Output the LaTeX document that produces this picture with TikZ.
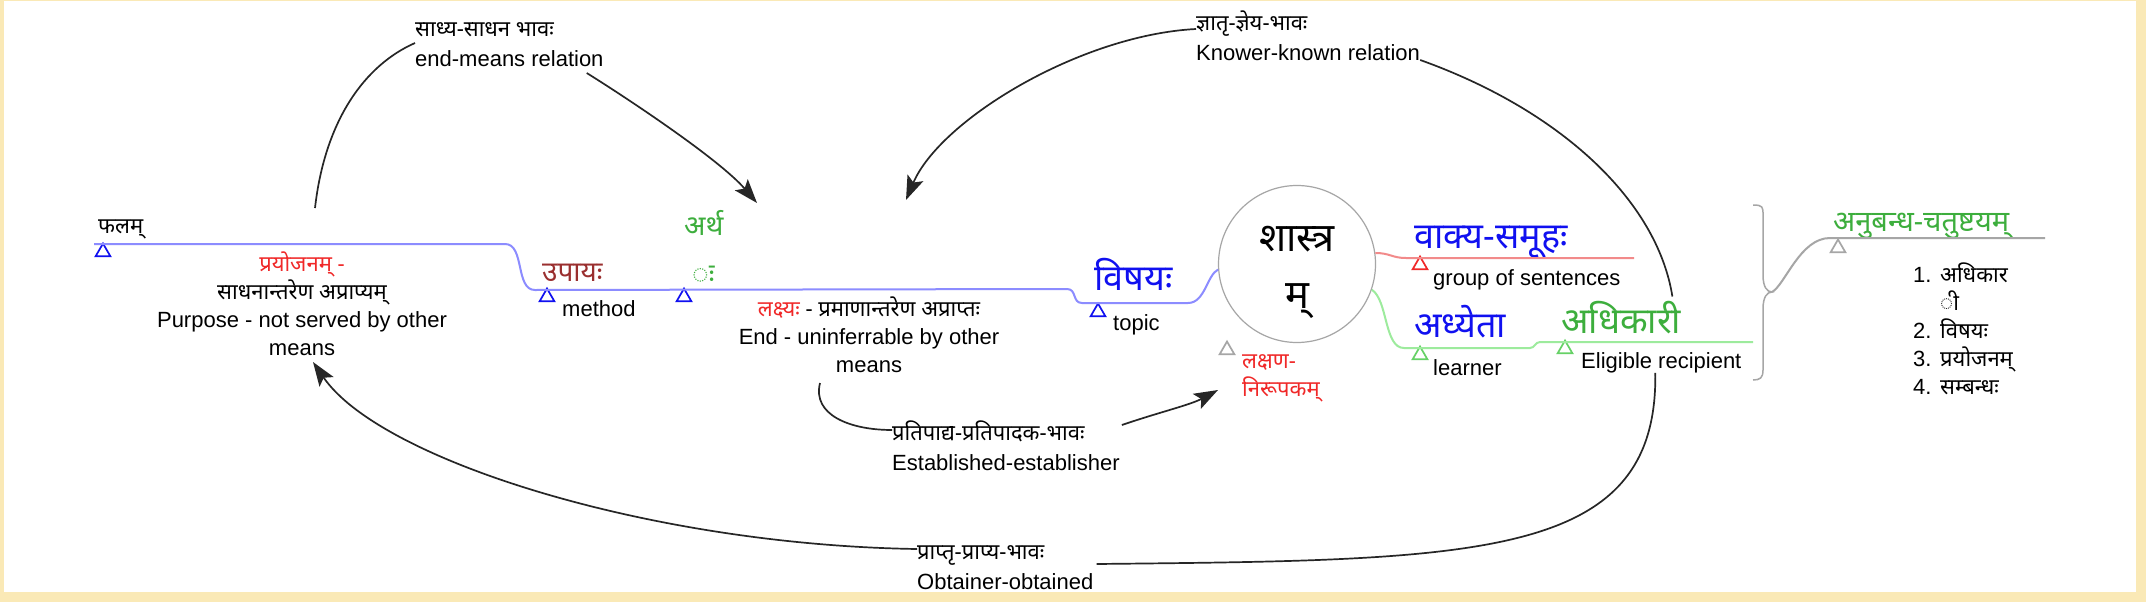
\documentclass[tikz,border=0pt]{standalone}
\usepackage{fontspec}
\setmainfont{Liberation Sans}
\newfontfamily\skt[Script=Devanagari]{Noto Sans}
\usetikzlibrary{arrows.meta,shapes.geometric}
\definecolor{bgframe}{HTML}{FAE9B6}
\definecolor{tblue}{HTML}{1010F0}
\definecolor{tgreen}{HTML}{3DAE3D}
\definecolor{tred}{HTML}{F02828}
\definecolor{tbrown}{HTML}{9A2F2F}
\definecolor{lblue}{HTML}{8C8CFF}
\definecolor{lred}{HTML}{F28A8A}
\definecolor{lgreen}{HTML}{9DEB9D}
\definecolor{lgrey}{HTML}{A6A6A6}

\begin{document}
\begin{tikzpicture}[x=1pt,y=-1pt,
  every node/.style={inner sep=0pt},
  notes/.style={font=\fontsize{22}{28}\selectfont,align=center,anchor=north},
  relnote/.style={font=\fontsize{22}{30}\selectfont,align=left,anchor=north west},
  latinnote/.style={font=\fontsize{22}{28}\selectfont,anchor=base west},
  devnote/.style={font=\skt\fontsize{22}{28}\selectfont,anchor=base west},
  topicmid/.style={font=\skt\fontsize{28}{48}\selectfont,anchor=base west},
  topicbig/.style={font=\skt\fontsize{36}{42}\selectfont,anchor=base west},
  marker/.style={regular polygon,regular polygon sides=3,draw,line width=1.7pt,minimum size=17pt},
  branchline/.style={line width=2pt},
  relline/.style={draw=black!85,line width=1.7pt},
  relarrow/.style={relline,-{Stealth[length=24pt,width=17pt,inset=5pt]}}]
\useasboundingbox (0,0) rectangle (2146,602);
\fill[bgframe] (0,0) rectangle (2146,602);
\fill[white] (4,1) rectangle (2136,592);

\node[devnote] (phalam) at (98,233) {फलम्};
\node[notes] (phalamnote) at (302,252) {{\skt\color{tred}प्रयोजनम् -}\\{\skt साधनान्तरेण अप्राप्यम्}\\Purpose - not served by other\\means};
\node[topicmid,tbrown] (upaya) at (542,281) {उपायः};
\node[latinnote] (method) at (562,316) {method};
\node[topicmid,tgreen,align=left,anchor=north west] (artha) at (684,210) {अर्थ\\\hspace*{8pt}ः};
\node[notes] (arthanote) at (869,297) {{\skt\color{tred}लक्ष्यः}{\skt{} - प्रमाणान्तरेण अप्राप्तः}\\End - uninferrable by other\\means};
\node[topicbig,tblue] (vishaya) at (1094,290) {विषयः};
\node[latinnote] (topic) at (1113,330) {topic};
\node[circle,draw=lgrey,line width=1.2pt,fill=white,minimum size=157pt] (shastra) at (1297,264) {};
\node[align=center,font=\skt\fontsize{40}{57}\selectfont] (shastratext) at (1297,272) {शास्त्र\\म्};
\node[topicbig,tblue] (vakya) at (1414,248) {वाक्य-समूहः};
\node[latinnote] (group) at (1433,285) {group of sentences};
\node[topicbig,tblue] (adhyeta) at (1414,337) {अध्येता};
\node[latinnote] (learner) at (1433,375) {learner};
\node[topicbig,tgreen] (adhikari) at (1561,333) {अधिकारी};
\node[latinnote] (eligible) at (1581,368) {Eligible recipient};
\node[devnote,tred,align=left,anchor=north west] (lakshana) at (1242,354) {लक्षण-\\निरूपकम्};
\node[topicmid,tgreen,font=\skt\fontsize{29}{42}\selectfont] (anubandha) at (1833,231) {अनुबन्ध-चतुष्टयम्};
\node[relnote,font=\fontsize{22}{28}\selectfont] (list) at (1913,263) {\makebox[27pt][l]{1.}{\skt अधिकार}\\\hspace*{27pt}{\skt ी}\\
  \makebox[27pt][l]{2.}{\skt विषयः}\\\makebox[27pt][l]{3.}{\skt प्रयोजनम्}\\\makebox[27pt][l]{4.}{\skt सम्बन्धः}};

\node[relnote] (sadhya) at (415,22) {{\skt साध्य-साधन भावः}\\end-means relation};
\node[relnote] (jnatr) at (1196,11) {{\skt ज्ञातृ-ज्ञेय-भावः}\\Knower-known relation};
\node[relnote] (pratipadya) at (892,421) {{\skt प्रतिपाद्य-प्रतिपादक-भावः}\\Established-establisher};
\node[relnote] (prapta) at (917,545) {{\skt प्राप्तृ-प्राप्य-भावः}\\Obtainer-obtained};

\node[marker,tblue] (m1) at (103,252) {};
\node[marker,tblue] (m2) at (547,297) {};
\node[marker,tblue] (m3) at (684,297) {};
\node[marker,tblue] (m4) at (1098,312) {};
\node[marker,tred] (m5) at (1420,265) {};
\node[marker,green!70!black!60] (m6) at (1420,355) {};
\node[marker,green!70!black!60] (m7) at (1565,349) {};
\node[marker,lgrey] (m8) at (1227,350) {};
\node[marker,lgrey] (m9) at (1838,248) {};

\draw[branchline,lblue] (shastra.184) .. controls (1207,275) and (1205,303) .. (1188,303) -- (1082,303)
  .. controls (1072,303) and (1077,289) .. (1067,289) -- (535,290)
  .. controls (515,290) and (525,244) .. (505,244) -- (94,244);
\draw[branchline,lred] (shastra.8) .. controls (1390,253) and (1392,258) .. (1406,258) -- (1634,258);
\draw[branchline,lgreen] (shastra.341) .. controls (1388,300) and (1384,348) .. (1404,348) -- (1530,348)
  .. controls (1535,348) and (1535,342) .. (1540,342) -- (1753,342);
\draw[lgrey,line width=1.5pt] (1753,205) .. controls (1763,205) and (1763,207) .. (1763,215) -- (1763,275)
  .. controls (1763,287) and (1767,292) .. (1772,292) coordinate (brace)
  .. controls (1767,292) and (1763,297) .. (1763,309) -- (1763,370)
  .. controls (1763,378) and (1760,380) .. (1753,380);
\draw[branchline,lgrey] (brace) .. controls (1785,285) and (1800,238) .. (1830,238) -- (2045,238);

\coordinate (phtop) at (315,208);
\coordinate (arthatip) at (757,203);
\coordinate (lakshyatip) at (906,200);
\coordinate (lakbot) at (820,383);
\coordinate (lakshanatip) at (1218,390);
\coordinate (purtip) at (313,362);

\draw[relline] (phtop) .. controls (325,120) and (365,65) .. ([yshift=-21pt]sadhya.north west);
\draw[relarrow] ([xshift=-17pt,yshift=-51pt]sadhya.north east) .. controls (630,100) and (720,160) .. (arthatip);
\draw[relarrow] ([yshift=-18pt]jnatr.north west) .. controls (1080,35) and (940,120) .. (lakshyatip);
\draw[relline] ([yshift=-49pt]jnatr.north east) .. controls (1560,110) and (1657,200) .. ([xshift=-9pt,yshift=4pt]adhikari.north east);
\draw[relline] (lakbot) .. controls (812,415) and (850,430) .. ([yshift=-9pt]pratipadya.north west);
\draw[relarrow] ([xshift=2pt,yshift=-4pt]pratipadya.north east) .. controls (1160,412) and (1190,405) .. (lakshanatip);
\draw[relline] ([xshift=-6pt]eligible.south) .. controls (1658,560) and (1480,560) .. ([xshift=3pt,yshift=-19pt]prapta.north east);
\draw[relarrow] ([yshift=-4pt]prapta.north west) .. controls (650,545) and (380,460) .. (purtip);
\end{tikzpicture}
\end{document}
